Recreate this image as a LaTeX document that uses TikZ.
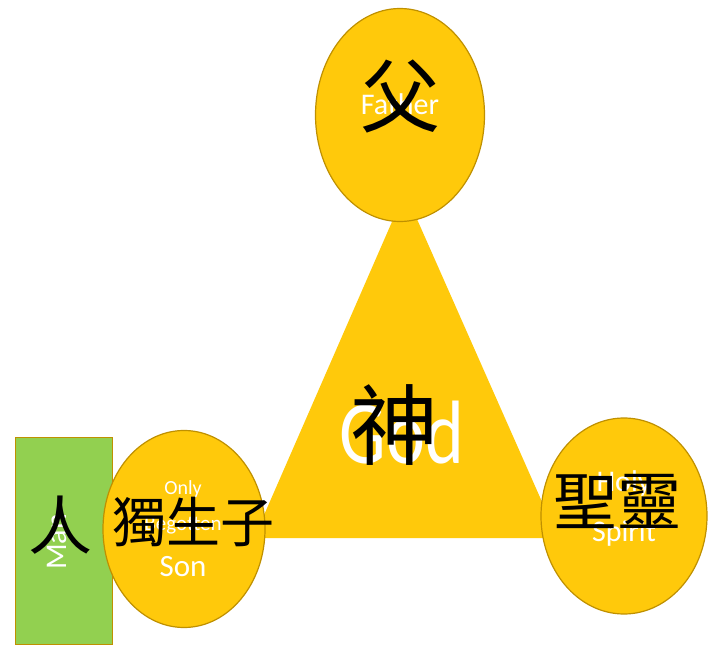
\documentclass[tikz,border=0pt]{standalone}
\usepackage{fontspec}
\setmainfont{Carlito}
\newfontfamily\cjk{Noto Sans CJK TC}
\definecolor{gold}{HTML}{FFC90B}
\definecolor{goldline}{HTML}{BF9000}
\definecolor{leaf}{HTML}{92D050}
\tikzset{
  blob/.style={ellipse, draw=goldline, line width=1.2pt, fill=gold, inner sep=0pt},
  en/.style={text=white, inner sep=0pt, align=center},
  zh/.style={text=black, inner sep=0pt, font=\cjk},
}
\usetikzlibrary{shapes.geometric}
\begin{document}
\begin{tikzpicture}[x=1pt,y=-1pt]
\useasboundingbox (0,0) rectangle (713,647);
% triangle
\coordinate (apex) at (405,192);
\coordinate (bl) at (254,538);
\coordinate (br) at (558,538);
\fill[gold] (apex) -- (bl) -- (br) -- cycle;
% man rectangle
\node[draw=goldline, line width=1.2pt, fill=leaf, minimum width=97pt, minimum height=207pt, inner sep=0pt] (man) at (64,541) {};
% ellipses
\node[blob, minimum width=169pt, minimum height=213pt] (father) at (400,115) {};
\node[blob, minimum width=162pt, minimum height=197pt] (son) at (184,529) {};
\node[blob, minimum width=166pt, minimum height=196pt] (spirit) at (624,516) {};
% English texts
\node[en, font=\fontsize{30}{30}\selectfont] (tfather) at (400,104) {Father};
\node[en, font=\fontsize{90}{90}\selectfont, xscale=0.82] (tgod) at (402,433) {God};
\node[en, font=\fontsize{20}{20}\selectfont] (tonly) at (183,489) {Only};
\node[en, font=\fontsize{21}{21}\selectfont] (tbeg) at (183,526) {Begotten};
\node[en, font=\fontsize{31}{31}\selectfont] (tson) at (183,567) {Son};
\node[en, font=\fontsize{30}{30}\selectfont] (tholy) at (624,484) {Holy};
\node[en, font=\fontsize{30}{30}\selectfont] (tspirit) at (624,534) {Spirit};
\node[en, font=\fontsize{30}{30}\selectfont, rotate=90] (tman) at (57,542) {Man};
% Chinese texts
\node[zh, font=\cjk\fontsize{80}{80}\selectfont] (zfather) at (400,97) {父};
\node[zh, font=\cjk\fontsize{88}{88}\selectfont] (zgod) at (394,425) {神};
\node[zh, font=\cjk\fontsize{54}{54}\selectfont] (zson) at (193,522) {獨生子};
\node[zh, font=\cjk\fontsize{64}{64}\selectfont] (zspirit) at (617,501) {聖靈};
\node[zh, font=\cjk\fontsize{64}{64}\selectfont] (zman) at (60,525) {人};
\end{tikzpicture}
\end{document}
